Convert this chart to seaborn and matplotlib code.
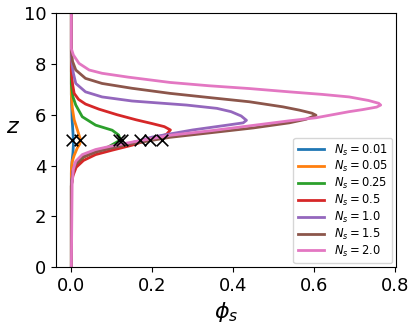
import numpy as np
import matplotlib
matplotlib.use('Agg')
import matplotlib.pyplot as plt
import pandas as pd
import seaborn as sns

labels = [r'$N_s=0.01$', r'$N_s=0.05$', r'$N_s=0.25$', r'$N_s=0.5$',
          r'$N_s=1.0$', r'$N_s=1.5$', r'$N_s=2.0$']

# profiles, (phi, z) pairs from top to bottom
phi_001 = [0, 0, 0.001, 0.002, 0.004, 0.005, 0.005, 0.004, 0.002, 0.001, 0, 0]
z_001 = [10, 6.8, 6.3, 5.8, 5.3, 5.0, 4.8, 4.5, 4.2, 4.0, 3.7, 0]

phi_005 = [0, 0, 0.002, 0.007, 0.015, 0.022, 0.021, 0.015, 0.007, 0.002, 0, 0]
z_005 = [10, 6.8, 6.3, 5.8, 5.4, 5.05, 4.85, 4.7, 4.4, 4.15, 3.8, 0]

phi_025 = [0, 0, 0.004, 0.011, 0.027, 0.06, 0.101, 0.117, 0.121, 0.09, 0.06, 0.03,
           0.012, 0.004, 0, 0]
z_025 = [10, 7.2, 6.7, 6.38, 5.92, 5.59, 5.39, 5.2, 5.0, 4.72, 4.56, 4.33, 4.03,
         3.7, 3.2, 0]

phi_05 = [0, 0, 0.003, 0.007, 0.018, 0.035, 0.068, 0.113, 0.16, 0.2, 0.23, 0.245,
          0.235, 0.2, 0.15, 0.1, 0.06, 0.03, 0.012, 0.004, 0, 0]
z_05 = [10, 7.7, 7.2, 6.84, 6.6, 6.42, 6.22, 6.0, 5.8, 5.65, 5.53, 5.4,
        5.22, 5.06, 4.8, 4.6, 4.43, 4.2, 3.93, 3.6, 3.2, 0]

phi_10 = [0, 0, 0.002, 0.005, 0.011, 0.035, 0.076, 0.15, 0.285, 0.36, 0.395, 0.42,
          0.433, 0.425, 0.39, 0.3, 0.2, 0.15, 0.1, 0.06, 0.027, 0.011, 0.004, 0, 0]
z_10 = [10, 8.25, 7.95, 7.63, 7.23, 6.9, 6.7, 6.54, 6.38, 6.25, 6.12, 5.95,
        5.78, 5.68, 5.6, 5.4, 5.12, 4.9, 4.72, 4.57, 4.37, 4.12, 3.82, 3.3, 0]

phi_15 = [0, 0, 0.003, 0.011, 0.035, 0.076, 0.15, 0.244, 0.35, 0.44, 0.523, 0.564,
          0.595, 0.605, 0.58, 0.539, 0.45, 0.35, 0.244, 0.15, 0.1, 0.06, 0.027,
          0.011, 0.004, 0, 0]
z_15 = [10, 8.5, 8.1, 7.76, 7.43, 7.23, 7.04, 6.84, 6.66, 6.51, 6.31, 6.18,
        6.06, 5.98, 5.82, 5.68, 5.48, 5.3, 5.11, 4.86, 4.69, 4.53, 4.32,
        4.07, 3.77, 3.2, 0]

phi_20 = [0, 0, 0.005, 0.019, 0.044, 0.076, 0.14, 0.244, 0.34, 0.44, 0.539, 0.62,
          0.687, 0.735, 0.76, 0.765, 0.755, 0.72, 0.687, 0.605, 0.539, 0.44, 0.35,
          0.244, 0.153, 0.1, 0.06, 0.027, 0.011, 0.005, 0.002, 0]
z_20 = [10, 8.6, 8.35, 8.02, 7.76, 7.63, 7.48, 7.27, 7.14, 7.03, 6.9, 6.8,
        6.7, 6.56, 6.45, 6.38, 6.3, 6.2, 6.12, 5.88, 5.76, 5.56, 5.38,
        5.19, 4.93, 4.77, 4.63, 4.43, 4.17, 3.86, 3.3, 0]

phis = [phi_001, phi_005, phi_025, phi_05, phi_10, phi_15, phi_20]
zs = [z_001, z_005, z_025, z_05, z_10, z_15, z_20]

# crosses at z = 5
cross_phi = [0.002, 0.022, 0.118, 0.125, 0.17, 0.195, 0.223]
cross_z = [5, 5, 5, 5, 5, 5, 5]

colors = sns.color_palette('tab10', 7)

fig, ax = plt.subplots(figsize=(4.17, 3.27), dpi=100)
fig.subplots_adjust(left=0.134, right=0.95, bottom=0.183, top=0.96)

for phi, z, lab, c in zip(phis, zs, labels, colors):
    sns.lineplot(x=phi, y=z, sort=False, estimator=None, color=c, lw=2,
                 label=lab, ax=ax)

sns.scatterplot(x=cross_phi, y=cross_z, marker='x', color='k', s=70,
                linewidth=1.2, zorder=5, ax=ax)

ax.set_ylim(0, 10)
ax.set_xticks([0.0, 0.2, 0.4, 0.6, 0.8])
ax.set_yticks([0, 2, 4, 6, 8, 10])
ax.tick_params(labelsize=13)
ax.set_xlabel(r'$\phi_s$', fontsize=16)
ax.set_ylabel(r'$z$', fontsize=16, rotation=0, va='center', ha='center')
ax.yaxis.set_label_coords(-0.125, 0.55)
ax.legend(loc='lower right', fontsize=8.3, labelspacing=0.15,
          handlelength=2.3, borderaxespad=0.35)

fig.savefig('out.png', dpi=100)
